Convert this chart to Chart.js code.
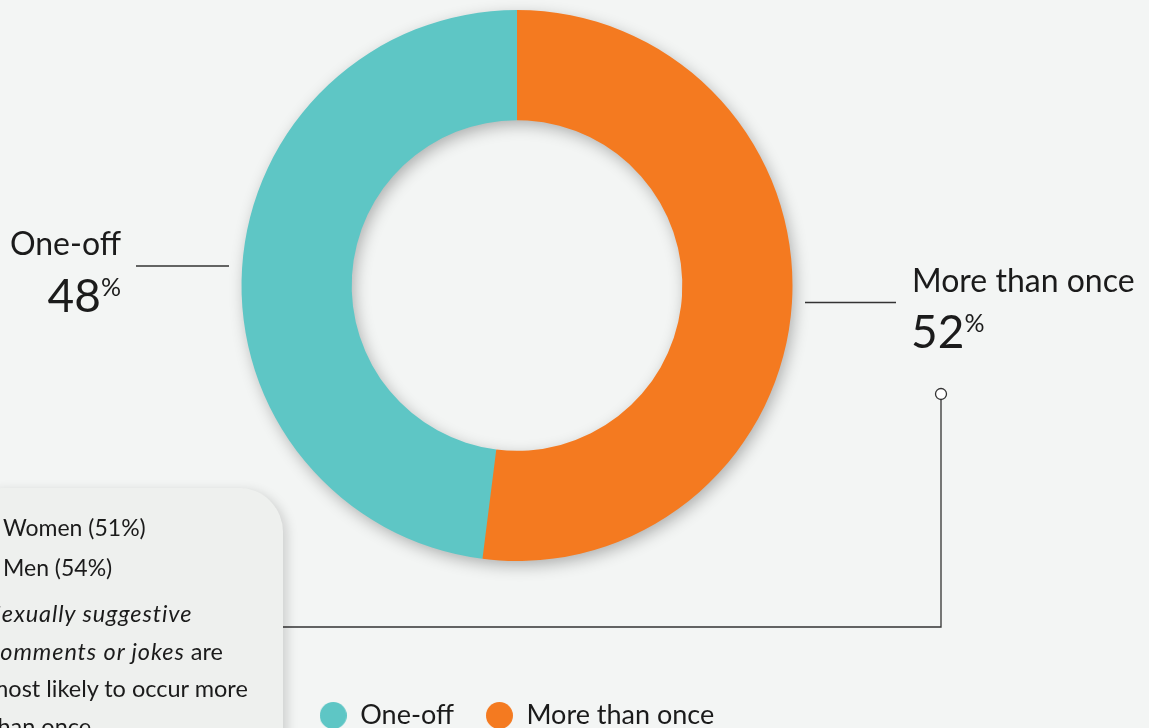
<!DOCTYPE html>
<html><head><meta charset="utf-8">
<script src="https://cdn.jsdelivr.net/npm/chart.js@4.4.0/dist/chart.umd.min.js"></script>
<style>
html,body{margin:0;padding:0;background:#f3f5f4;width:1149px;height:728px;overflow:hidden;font-family:Lato,"Noto Sans",sans-serif;color:#1b1b1b}
#wrap{position:absolute;left:0;top:0;width:1149px;height:739px}
canvas{position:absolute;left:0;top:0}
svg{position:absolute;left:0;top:0}
.t{position:absolute;white-space:nowrap;line-height:1}
.pct{font-size:25px;vertical-align:16px;line-height:1}
#box{position:absolute;left:-40px;top:488px;width:323px;height:320px;border-radius:44px;background:#eef0ee;box-shadow:4px 3px 12px rgba(0,0,0,0.16)}
#para{position:absolute;left:-11px;top:595px;font-size:23.5px;line-height:37.5px;white-space:nowrap}
#para i{letter-spacing:0.9px}
</style></head>
<body>
<div id="wrap">
<canvas id="c" width="1149" height="739"></canvas>
<svg width="1149" height="728">
<g stroke="#333" stroke-width="1.3" fill="none">
<line x1="136" y1="266" x2="229" y2="266"/>
<line x1="805" y1="302.5" x2="896" y2="302.5"/>
<path d="M941 400 V627 H270"/>
<circle cx="941" cy="394" r="5.5" fill="#fff"/>
</g>
</svg>
<div id="box"></div>
<div class="t" style="right:1028px;top:227px;font-size:32px">One-off</div>
<div class="t" style="right:1028px;top:272px;font-size:46px">48<span class="pct">%</span></div>
<div class="t" style="left:912px;top:264px;font-size:32px">More than once</div>
<div class="t" style="left:911px;top:308px;font-size:46px">52<span class="pct">%</span></div>
<div class="t" style="left:3px;top:516px;font-size:23px">Women (51%)</div>
<div class="t" style="left:3px;top:556px;font-size:23px">Men (54%)</div>
<div id="para"><i>Sexually suggestive<br>comments or jokes</i> are<br>most likely to occur more<br>than once</div>
</div>
<script>
const categories = ['One-off', 'More than once'];
const values = [48, 52];
const colors = ['#5ec6c5', '#f47a20'];
const total = values.reduce((a, b) => a + b, 0);

function dot(color) {
  const c = document.createElement('canvas');
  c.width = 27; c.height = 27;
  const g = c.getContext('2d');
  g.fillStyle = color;
  g.beginPath();
  g.arc(13.5, 13.5, 13.5, 0, Math.PI * 2);
  g.fill();
  return c;
}

const ringShadow = {
  id: 'ringShadow',
  beforeDatasetsDraw(chart) {
    const arc = chart.getDatasetMeta(0).data[0];
    if (!arc) return;
    const {x, y, outerRadius, innerRadius} = arc.getProps(['x', 'y', 'outerRadius', 'innerRadius'], true);
    const ctx = chart.ctx;
    ctx.save();
    ctx.shadowColor = 'rgba(0,0,0,0.30)';
    ctx.shadowBlur = 16;
    ctx.shadowOffsetX = 3;
    ctx.shadowOffsetY = 5;
    ctx.beginPath();
    ctx.arc(x, y, outerRadius - 1, 0, Math.PI * 2);
    ctx.arc(x, y, innerRadius + 1, 0, Math.PI * 2, true);
    ctx.fillStyle = colors[0];
    ctx.fill();
    ctx.restore();
  }
};

new Chart(document.getElementById('c'), {
  type: 'doughnut',
  data: {
    labels: categories,
    datasets: [{data: values, backgroundColor: colors, borderWidth: 0, hoverOffset: 0}]
  },
  options: {
    responsive: false,
    animation: false,
    devicePixelRatio: 1,
    cutout: '60%',
    rotation: -360 * values[0] / total,
    layout: {padding: {left: 0, right: 115, top: 10, bottom: 0}},
    plugins: {
      tooltip: {enabled: false},
      legend: {
        position: 'bottom',
        title: {display: true, text: ' ', font: {size: 10, lineHeight: 1}, padding: {top: 0, bottom: 99}},
        labels: {
          usePointStyle: true, boxWidth: 27, boxHeight: 27, padding: 32,
          color: '#1b1b1b', font: {family: 'Lato', size: 27},
          generateLabels(chart) {
            const items = Chart.overrides.doughnut.plugins.legend.labels.generateLabels(chart);
            items.forEach((it, i) => { it.pointStyle = dot(colors[i]); });
            return items;
          }
        }
      }
    }
  },
  plugins: [ringShadow]
});
</script>
</body></html>
